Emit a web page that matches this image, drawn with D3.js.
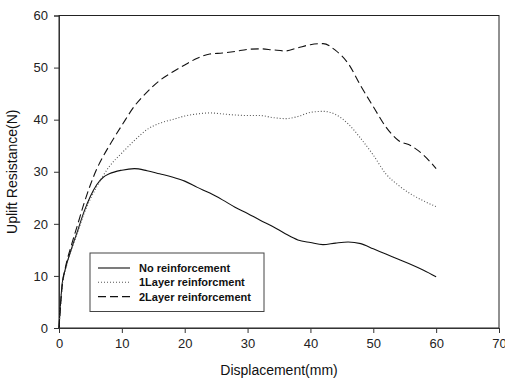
<!DOCTYPE html>
<html>
<head>
<meta charset="utf-8">
<script src="https://cdn.jsdelivr.net/npm/d3@7"></script>
<style>
  html, body { margin: 0; padding: 0; background: #fff; }
  svg { display: block; }
  text { font-family: "Liberation Sans", Arial, sans-serif; }
</style>
</head>
<body>
<svg id="chart" width="505" height="381"></svg>
<script>
// Uplift resistance vs. displacement for three reinforcement cases
const displacement = [0, 0.5, 1, 2, 3, 4, 5, 6, 7, 8, 10, 12, 14, 16, 18, 20, 22, 24, 26, 28, 30,
  32, 34, 36, 38, 40, 42, 44, 46, 48, 50, 52, 54, 56, 58, 60];
const noReinforcement = [0, 8.5, 11.3, 15.3, 18.8, 22.4, 25.3, 27.5, 28.9, 29.6, 30.3, 30.6, 30.2, 29.6,
  29.0, 28.2, 27.0, 25.9, 24.6, 23.2, 22.0, 20.7, 19.5, 18.1, 16.9, 16.4, 16.0, 16.3, 16.5, 16.2,
  15.2, 14.2, 13.2, 12.2, 11.1, 9.85];
const oneLayer = [0, 8, 11, 15, 18.5, 22, 24.8, 27.1, 29.2, 31, 33.6, 36, 38.1, 39.3, 40.0, 40.7, 41.1,
  41.3, 41.1, 40.9, 40.8, 40.8, 40.4, 40.2, 40.6, 41.4, 41.6, 41.0, 39.2, 36.4, 33.2, 29.6, 27.4,
  25.7, 24.4, 23.3];
const twoLayer = [0, 8, 11.5, 16, 20, 24, 27.5, 30.5, 32.9, 35.0, 38.9, 42.6, 45.3, 47.5, 49.1, 50.5,
  51.8, 52.6, 52.8, 53.1, 53.5, 53.6, 53.4, 53.2, 53.8, 54.4, 54.6, 53.3, 50.8, 46.5, 42.5, 38.6,
  36.0, 35.0, 33.2, 30.6];

const seriesNames = ["No reinforcement", "1Layer reinforcment", "2Layer reinforcement"];
const seriesValues = [noReinforcement, oneLayer, twoLayer];
const xTicks = [0, 10, 20, 30, 40, 50, 60, 70];
const yTicks = [0, 10, 20, 30, 40, 50, 60];

const styles = [
  { stroke: "#111", dash: null, width: 1.1 },
  { stroke: "#555", dash: "1,2", width: 1.1 },
  { stroke: "#111", dash: "8,4", width: 1.1 }
];

const svg = d3.select("#chart");
const margin = { left: 59, right: 6, top: 15.5, bottom: 53 };
const W = 505, H = 381;

const x = d3.scaleLinear().domain([0, 70]).range([margin.left, W - margin.right]);
const y = d3.scaleLinear().domain([0, 60]).range([H - margin.bottom, margin.top]);

// frame
svg.append("rect")
  .attr("x", x(0)).attr("y", y(60))
  .attr("width", x(70) - x(0)).attr("height", y(0) - y(60))
  .attr("fill", "none").attr("stroke", "#222").attr("stroke-width", 1);

// axes
const xAxis = svg.append("g")
  .attr("transform", `translate(0,${y(0)})`)
  .call(d3.axisBottom(x).tickValues(xTicks).tickSize(5).tickPadding(6));
const yAxis = svg.append("g")
  .attr("transform", `translate(${x(0)},0)`)
  .call(d3.axisLeft(y).tickValues(yTicks).tickSize(5).tickPadding(6));

[xAxis, yAxis].forEach(g => {
  g.select(".domain").attr("stroke", "#333");
  g.selectAll(".tick line").attr("stroke", "#333");
  g.selectAll(".tick text")
    .attr("fill", "#222")
    .style("font-size", "13px")
    .style("font-family", "'Liberation Sans', Arial, sans-serif");
});

// axis titles
svg.append("text")
  .attr("x", (x(0) + x(70)) / 2).attr("y", 375)
  .attr("text-anchor", "middle")
  .attr("fill", "#111")
  .style("font-size", "14px")
  .text("Displacement(mm)");

svg.append("text")
  .attr("transform", `translate(17,${(y(0) + y(60)) / 2}) rotate(-90)`)
  .attr("text-anchor", "middle")
  .attr("fill", "#111")
  .style("font-size", "14px")
  .text("Uplift Resistance(N)");

// curves
const line = d3.line()
  .x((d, i) => x(displacement[i]))
  .y(d => y(d))
  .curve(d3.curveMonotoneX);

seriesValues.forEach((vals, k) => {
  svg.append("path")
    .datum(vals)
    .attr("d", line)
    .attr("fill", "none")
    .attr("stroke", styles[k].stroke)
    .attr("stroke-width", styles[k].width)
    .attr("stroke-dasharray", styles[k].dash);
});

// legend
const legend = svg.append("g").attr("transform", "translate(90,253)");
legend.append("rect")
  .attr("width", 174).attr("height", 58.5)
  .attr("fill", "#fff").attr("stroke", "#444").attr("stroke-width", 1);

seriesNames.forEach((name, k) => {
  const ly = 15 + k * 14.3;
  legend.append("line")
    .attr("x1", 8).attr("x2", 40).attr("y1", ly).attr("y2", ly)
    .attr("stroke", styles[k].stroke)
    .attr("stroke-width", styles[k].width)
    .attr("stroke-dasharray", styles[k].dash);
  legend.append("text")
    .attr("x", 49).attr("y", ly + 4)
    .attr("fill", "#111")
    .style("font-size", "11px")
    .style("font-weight", "bold")
    .text(name);
});
</script>
</body>
</html>
